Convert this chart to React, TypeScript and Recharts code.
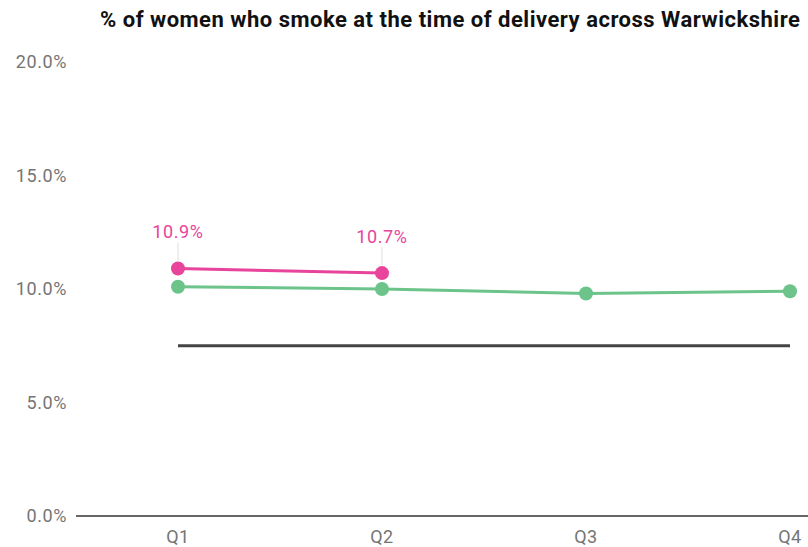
import React from "react";
import { LineChart, Line, XAxis, YAxis } from "recharts";

// Quarterly smoking-at-delivery rates (%)
const quarters = ["Q1", "Q2", "Q3", "Q4"];
const currentYear = [10.9, 10.7, null, null];
const previousYear = [10.1, 10.0, 9.8, 9.9];
const target = [7.5, 7.5, 7.5, 7.5];
const yTicks = [0, 5, 10, 15, 20];

const data = quarters.map((q, i) => ({
  quarter: q,
  current: currentYear[i],
  previous: previousYear[i],
  target: target[i],
}));

const PINK = "#e8449b";
const GREEN = "#6cc48a";
const DARK = "#444444";
const FONT = "Roboto, 'Noto Sans', sans-serif";

const tickStyle = {
  fill: "#757575",
  fontSize: 18,
  fontFamily: FONT,
  letterSpacing: 0.6,
};

const PinkLabel = (props: any) => {
  const { x, y, value } = props;
  if (value == null) return null;
  return (
    <g>
      <line x1={x} x2={x} y1={y - 26} y2={y - 8} stroke="#dddddd" strokeWidth={1} />
      <text
        x={x}
        y={y - 37}
        textAnchor="middle"
        dominantBaseline="central"
        fill={PINK}
        fontSize={18}
        letterSpacing={0.6}
        fontFamily={FONT}
      >
        {value.toFixed(1)}%
      </text>
    </g>
  );
};

export default function App() {
  return (
    <div
      style={{
        position: "absolute",
        left: 0,
        top: 0,
        width: 808,
        height: 547,
        background: "#ffffff",
        overflow: "hidden",
      }}
    >
      <div
        style={{
          position: "absolute",
          left: 100,
          top: 7,
          fontFamily: FONT,
          fontWeight: 700,
          fontSize: 22,
          letterSpacing: 0.5,
          color: "#111111",
          whiteSpace: "nowrap",
        }}
      >
        % of women who smoke at the time of delivery across Warwickshire
      </div>
      <LineChart
        width={808}
        height={547}
        data={data}
        margin={{ top: 62, right: 0, bottom: 1, left: 0 }}
      >
        <XAxis
          dataKey="quarter"
          height={30}
          padding={{ left: 102, right: 18 }}
          axisLine={{ stroke: "#333333", strokeWidth: 1.5 }}
          tickLine={false}
          tickMargin={8}
          tick={tickStyle}
        />
        <YAxis
          width={76}
          domain={[0, 20]}
          ticks={yTicks}
          axisLine={false}
          tickLine={false}
          tickMargin={3}
          tickFormatter={(v: number) => `${v.toFixed(1)}%`}
          tick={tickStyle}
        />
        <Line
          dataKey="target"
          stroke={DARK}
          strokeWidth={3}
          dot={false}
          isAnimationActive={false}
        />
        <Line
          dataKey="previous"
          stroke={GREEN}
          strokeWidth={3}
          dot={{ r: 7, fill: GREEN, stroke: GREEN, strokeWidth: 0 }}
          activeDot={false}
          isAnimationActive={false}
        />
        <Line
          dataKey="current"
          stroke={PINK}
          strokeWidth={3}
          dot={{ r: 7, fill: PINK, stroke: PINK, strokeWidth: 0 }}
          activeDot={false}
          label={<PinkLabel />}
          isAnimationActive={false}
        />
      </LineChart>
    </div>
  );
}
